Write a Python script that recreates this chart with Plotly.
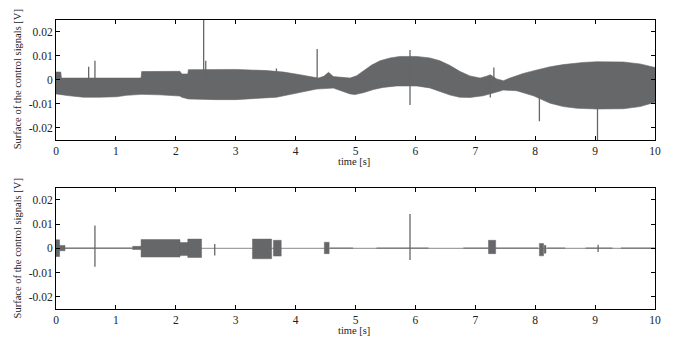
import plotly.graph_objects as go

# ---------------- data ----------------
x_ticks = [0, 1, 2, 3, 4, 5, 6, 7, 8, 9, 10]
y_ticks = [-0.02, -0.01, 0, 0.01, 0.02]
y_tick_text = ["-0.02", "-0.01", "0", "0.01", "0.02"]

# top panel: envelope of the dense oscillation (upper edge)
up_t = [0, 0.08, 0.09, 0.5, 1.0, 1.15, 1.42, 1.43, 2.07, 2.10, 2.20, 2.21, 2.6,
        3.0, 3.52, 3.8, 4.07, 4.3, 4.38, 4.47, 4.55, 4.63, 4.91, 5.02, 5.13, 5.27,
        5.41, 5.58, 5.74, 6.02, 6.24, 6.41, 6.58, 6.74, 6.91, 7.08, 7.19, 7.25,
        7.36, 7.47, 7.58, 7.80, 8.03, 8.25, 8.47, 8.80, 9.03, 9.47, 9.75, 10]
up_v = [0.0033, 0.0033, 0.0008, 0.0008, 0.0008, 0.0007, 0.0008, 0.0035, 0.0036,
        0.0025, 0.0025, 0.0043, 0.0044, 0.0044, 0.0039, 0.0033, 0.0022, 0.0011,
        0.0008, 0.0015, 0.0032, 0.0014, 0.0008, 0.0018, 0.0039, 0.0062, 0.0080,
        0.0092, 0.0098, 0.0098, 0.0092, 0.0080, 0.0060, 0.0036, 0.0017, 0.0008,
        0.0016, 0.0022, 0.0004, -0.0003, 0.0008, 0.0027, 0.0042, 0.0055, 0.0064,
        0.0073, 0.0076, 0.0075, 0.0067, 0.0052]
# lower edge
lo_t = [0, 0.19, 0.46, 0.73, 1.01, 1.18, 1.43, 1.73, 2.07, 2.10, 2.21, 2.68, 3.0,
        3.4, 3.68, 3.96, 4.18, 4.35, 4.63, 4.74, 4.91, 4.99, 5.13, 5.30, 5.46,
        5.69, 6.02, 6.24, 6.41, 6.58, 6.74, 6.91, 7.13, 7.36, 7.47, 7.69, 7.97,
        8.25, 8.47, 8.70, 9.03, 9.47, 9.75, 10]
lo_v = [-0.0058, -0.0065, -0.0072, -0.0072, -0.0070, -0.0064, -0.0060, -0.0062,
        -0.0067, -0.0072, -0.0079, -0.0082, -0.0082, -0.0076, -0.0072, -0.0058,
        -0.0047, -0.0038, -0.0034, -0.0042, -0.0058, -0.0061, -0.0053, -0.0040,
        -0.0031, -0.0025, -0.0025, -0.0033, -0.0047, -0.0063, -0.0072, -0.0073,
        -0.0066, -0.0050, -0.0042, -0.0045, -0.0066, -0.0097, -0.0111, -0.0118,
        -0.0121, -0.0120, -0.0111, -0.0093]

top_spike_t = [0.545, 0.65, 2.465, 2.50, 3.68, 4.36, 5.91, 7.25, 7.31, 8.07, 9.04]
top_spike_lo = [0, 0, 0, 0, 0, 0, -0.0104, -0.0073, 0, -0.0172, -0.026]
top_spike_hi = [0.0055, 0.0080, 0.026, 0.0080, 0.0048, 0.0129, 0.0125, 0, 0.0052, 0, 0]

# bottom panel: bursts (start, end, upper, lower)
burst_start = [0.00, 0.06, 1.28, 1.42, 2.07, 2.20, 3.28, 3.63, 4.48, 7.22, 8.07, 8.15]
burst_end = [0.06, 0.15, 1.42, 2.07, 2.20, 2.43, 3.60, 3.76, 4.56, 7.34, 8.14, 8.18]
burst_upper = [0.0035, 0.0012, 0.0008, 0.0036, 0.0024, 0.0038, 0.0038, 0.0033,
               0.0025, 0.0033, 0.0020, 0.0012]
burst_lower = [-0.0034, -0.0010, -0.0005, -0.0036, -0.0030, -0.0038, -0.0043,
               -0.0032, -0.0022, -0.0022, -0.0031, -0.0020]

bot_spike_t = [0.65, 2.65, 5.91, 9.05]
bot_spike_lo = [-0.0076, -0.0030, -0.0048, -0.0015]
bot_spike_hi = [0.0094, 0.0018, 0.0141, 0.0015]

fuzz_start = [0.15, 4.57, 5.35, 6.80, 7.34, 8.20, 8.84, 9.43]
fuzz_end = [1.28, 4.96, 6.22, 7.22, 8.05, 8.50, 9.29, 10.0]
fuzz_amp = 0.0003

SIG = "#666769"
LIGHT = "#a0a0a0"


def spikes(ts, los, his):
    xs, ys = [], []
    for t, lo, hi in zip(ts, los, his):
        xs += [t, t, None]
        ys += [lo, hi, None]
    return xs, ys


def boxes(starts, ends, ups, lows):
    xs, ys = [], []
    for s, e, u, l in zip(starts, ends, ups, lows):
        xs += [s, e, e, s, s, None]
        ys += [u, u, l, l, u, None]
    return xs, ys


fig = go.Figure()

# ---- top panel: closed envelope polygon ----
poly_x = list(up_t) + list(reversed(lo_t))
poly_y = list(up_v) + list(reversed(lo_v))
fig.add_trace(go.Scatter(x=poly_x, y=poly_y, mode="lines", fill="toself",
                         fillcolor=SIG, line=dict(width=0.6, color=SIG),
                         xaxis="x", yaxis="y", showlegend=False, hoverinfo="skip"))
sx, sy = spikes(top_spike_t, top_spike_lo, top_spike_hi)
fig.add_trace(go.Scatter(x=sx, y=sy, mode="lines", line=dict(width=1.3, color=SIG),
                         xaxis="x", yaxis="y", showlegend=False, hoverinfo="skip"))

# ---- bottom panel ----
fig.add_trace(go.Scatter(x=[x_ticks[0], x_ticks[-1]], y=[0, 0], mode="lines",
                         line=dict(width=1.2, color=LIGHT), xaxis="x2", yaxis="y2",
                         showlegend=False, hoverinfo="skip"))
fx, fy = boxes(fuzz_start, fuzz_end, [fuzz_amp] * len(fuzz_start),
               [-fuzz_amp] * len(fuzz_start))
fig.add_trace(go.Scatter(x=fx, y=fy, mode="lines", fill="toself", fillcolor="#808080",
                         line=dict(width=0), xaxis="x2", yaxis="y2",
                         showlegend=False, hoverinfo="skip"))
bx, by = boxes(burst_start, burst_end, burst_upper, burst_lower)
fig.add_trace(go.Scatter(x=bx, y=by, mode="lines", fill="toself", fillcolor=SIG,
                         line=dict(width=0.5, color=SIG), xaxis="x2", yaxis="y2",
                         showlegend=False, hoverinfo="skip"))
sx2, sy2 = spikes(bot_spike_t, bot_spike_lo, bot_spike_hi)
fig.add_trace(go.Scatter(x=sx2, y=sy2, mode="lines", line=dict(width=1.3, color=SIG),
                         xaxis="x2", yaxis="y2", showlegend=False, hoverinfo="skip"))

FONT = "Liberation Serif"
TXT = "#222222"
axis_common = dict(showline=True, linecolor="black", linewidth=1, mirror="ticks",
                   ticks="inside", ticklen=4, tickcolor="black", showgrid=False,
                   zeroline=False, tickfont=dict(family=FONT, size=11.5, color=TXT))

fig.update_layout(
    width=675, height=339,
    margin=dict(l=56, r=20, t=20, b=30),
    paper_bgcolor="white", plot_bgcolor="white",
    font=dict(family=FONT, color=TXT),
    xaxis=dict(domain=[0, 1], range=[0, 10], tickvals=x_ticks, anchor="y",
               **axis_common),
    yaxis=dict(domain=[0.585, 1], range=[-0.025, 0.025], tickvals=y_ticks,
               ticktext=y_tick_text, anchor="x", **axis_common),
    xaxis2=dict(domain=[0, 1], range=[0, 10], tickvals=x_ticks, anchor="y2",
                **axis_common),
    yaxis2=dict(domain=[0, 0.42], range=[-0.025, 0.025], tickvals=y_ticks,
                ticktext=y_tick_text, anchor="x2", **axis_common),
    annotations=[
        dict(text="time [s]", xref="paper", yref="paper", x=0.4975, y=0.509,
             xanchor="center", yanchor="middle", showarrow=False,
             font=dict(family=FONT, size=10.5, color=TXT)),
        dict(text="time [s]", xref="paper", yref="paper", x=0.4975, y=-0.076,
             xanchor="center", yanchor="middle", showarrow=False,
             font=dict(family=FONT, size=10.5, color=TXT)),
        dict(text="Surface of the control signals [V]", xref="paper", yref="paper",
             x=-0.065, y=0.795, textangle=-90, xanchor="center", yanchor="middle",
             showarrow=False, font=dict(family=FONT, size=10.5, color=TXT)),
        dict(text="Surface of the control signals [V]", xref="paper", yref="paper",
             x=-0.065, y=0.21, textangle=-90, xanchor="center", yanchor="middle",
             showarrow=False, font=dict(family=FONT, size=10.5, color=TXT)),
    ],
)

fig.write_html("out.html")
